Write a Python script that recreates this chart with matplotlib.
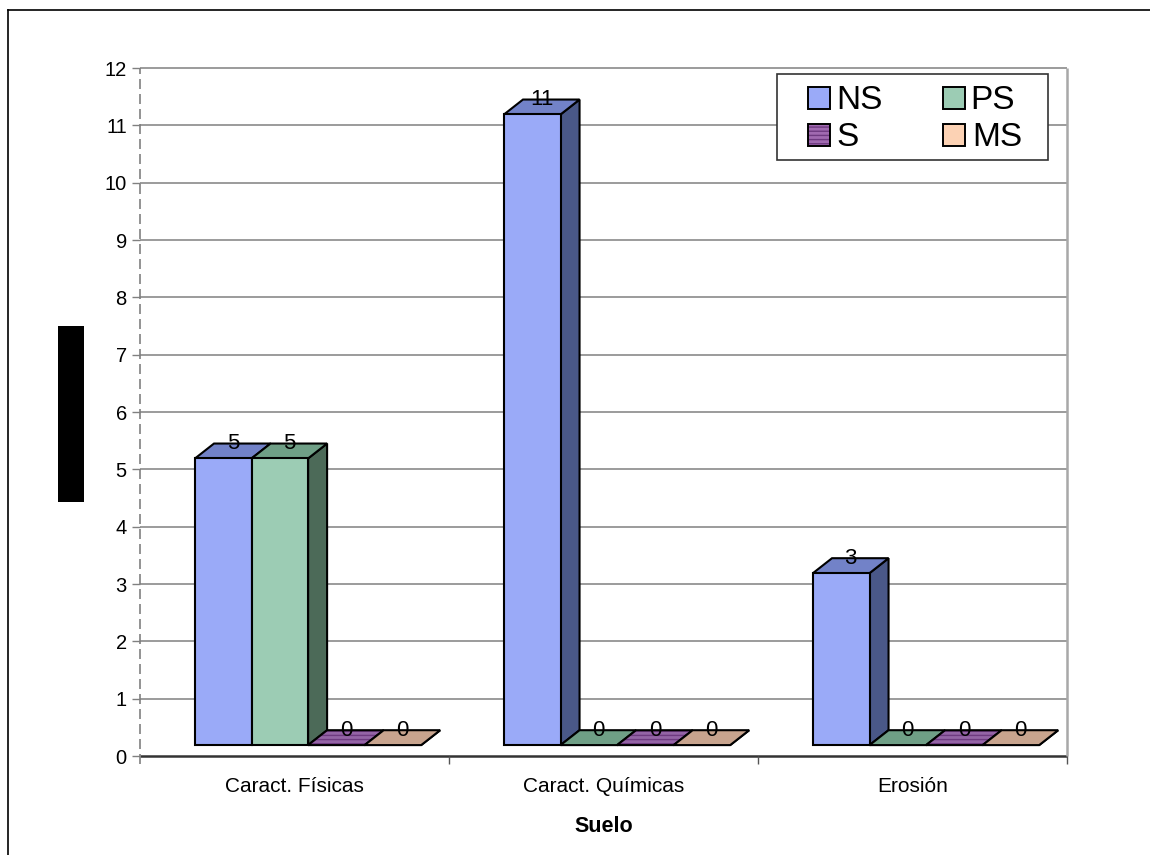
import matplotlib
matplotlib.use("Agg")
import matplotlib.pyplot as plt
from matplotlib.patches import Polygon, Rectangle

plt.rcParams['font.family'] = ['Liberation Sans', 'DejaVu Sans']

# ---- data ----
categories = ["Caract. Físicas", "Caract. Químicas", "Erosión"]
series_names = ["NS", "PS", "S", "MS"]
NS = [5, 11, 3]
PS = [5, 0, 0]
S = [0, 0, 0]
MS = [0, 0, 0]
series_values = [NS, PS, S, MS]
y_ticks = list(range(0, 13))
x_title = "Suelo"

# face colours per series: front, top, side
front_cols = ["#9aaaf8", "#9cccb4", "#9a68a8", "#f4c8a8"]
top_cols = ["#7282c8", "#6f9f86", "#9464a6", "#c8a48e"]
side_cols = ["#4a5888", "#4c6a58", "#5e3a6a", "#8a6e5e"]
legend_cols = ["#9aaaf8", "#9cccb4", "#a06ab0", "#fcd2b4"]
stripe_col = "#6e3a80"

W, H = 1150, 855
fig = plt.figure(figsize=(W / 100, H / 100), dpi=100)


def fx(px):
    return px / W


def fy(py):
    return 1 - py / H


# outer chart frame
fig.add_artist(plt.Line2D([fx(8), fx(8)], [fy(10), 0], color="black", lw=1.2,
                          transform=fig.transFigure))
fig.add_artist(plt.Line2D([fx(8), 1], [fy(10), fy(10)], color="black", lw=1.2,
                          transform=fig.transFigure))

# plot area
x0p, x1p, y0p, y1p = 140, 1067, 756, 68
ax = fig.add_axes([fx(x0p), fy(y0p), (x1p - x0p) / W, (y0p - y1p) / H])
ax.set_xlim(0, 3)
ax.set_ylim(0, 12)
for sp in ax.spines.values():
    sp.set_visible(False)
ax.patch.set_alpha(0)

# gridlines on back wall
ax.hlines(y_ticks[1:], 0, 3, color="#808080", lw=1.1, zorder=1, clip_on=False)
ax.hlines(0, 0, 3, color="#333333", lw=1.8, zorder=1, clip_on=False)
ax.vlines(3, 0, 12, color="#a8a8a8", lw=1.8, zorder=1, clip_on=False)
ax.vlines(0, -0.14, 12, color="#808080", lw=1.2, linestyles=(0, (6, 3)),
          zorder=1, clip_on=False)

ax.set_yticks(y_ticks)
ax.set_yticklabels([str(t) for t in y_ticks])
ax.tick_params(axis="y", length=6, width=1, color="#808080", labelsize=14.5,
               pad=3.5, direction="out")
ax.set_xticks([1, 2, 3])
ax.set_xticklabels([])
ax.tick_params(axis="x", length=6, width=1, color="#555555", direction="out")

# 3D-looking bars
bar_w = 0.183
grp_off = 0.178
base = 0.19
dx, dy = 0.0615, 0.26

for i in range(len(categories)):
    for j, vals in enumerate(series_values):
        v = vals[i]
        xl = i + grp_off + j * bar_w
        xr = xl + bar_w
        yt = base + v
        side = Polygon([(xr, base), (xr + dx, base + dy), (xr + dx, yt + dy), (xr, yt)],
                       closed=True, fc=side_cols[j], ec="black", lw=1.5, zorder=3 + j)
        top = Polygon([(xl, yt), (xr, yt), (xr + dx, yt + dy), (xl + dx, yt + dy)],
                      closed=True, fc=top_cols[j], ec="black", lw=1.5, zorder=3 + j)
        ax.add_patch(side)
        if series_names[j] == "S":
            ax.add_patch(Polygon(top.get_xy(), closed=True, fc=top_cols[j],
                                 ec=stripe_col, lw=0, hatch="----", zorder=3 + j))
            top.set_facecolor("none")
        ax.add_patch(top)
        if v > 0:
            ax.add_patch(Rectangle((xl, base), bar_w, v, fc=front_cols[j], ec="black",
                                   lw=1.5, zorder=3 + j))
        ax.text(xl + bar_w / 2 + dx / 2, yt + dy, str(v), ha="center", va="center",
                fontsize=16, color="black", zorder=10)

# category labels and axis title
for i, c in enumerate(categories):
    fig.text(fx(x0p + (i + 0.5) * (x1p - x0p) / 3), fy(786), c, ha="center",
             va="center", fontsize=15)
fig.text(fx(604), fy(826), x_title, ha="center", va="center", fontsize=15.5,
         fontweight="bold")

# blacked-out y-axis title
fig.add_artist(Rectangle((fx(58), fy(502)), fx(84) - fx(58), fy(326) - fy(502),
                         fc="black", ec="none", transform=fig.transFigure))

# legend box
lx0, lx1, ly0, ly1 = 777, 1048, 74, 160
fig.add_artist(Rectangle((fx(lx0), fy(ly1)), fx(lx1) - fx(lx0), fy(ly0) - fy(ly1),
                         fc="white", ec="#333333", lw=1.2, transform=fig.transFigure,
                         zorder=20))
# (swatch left, swatch top, text left, text baseline)
legend_pos = [(808, 87, 836, 109), (943, 87, 970, 109),
              (808, 124, 836, 146), (943, 124, 972, 146)]
sw = 22
for j, (px, py, tx, tb) in enumerate(legend_pos):
    rect = (fx(px), fy(py + sw)), fx(px + sw) - fx(px), fy(py) - fy(py + sw)
    if series_names[j] == "S":
        fig.add_artist(Rectangle(*rect, fc=legend_cols[j], ec=stripe_col, lw=0,
                                 hatch="----", transform=fig.transFigure, zorder=21))
        fig.add_artist(Rectangle(*rect, fc="none", ec="black", lw=1.4,
                                 transform=fig.transFigure, zorder=22))
    else:
        fig.add_artist(Rectangle(*rect, fc=legend_cols[j], ec="black", lw=1.4,
                                 transform=fig.transFigure, zorder=21))
    fig.text(fx(tx), fy(tb), series_names[j], ha="left", va="baseline",
             fontsize=24, zorder=23)

fig.savefig("out.png", dpi=100)
